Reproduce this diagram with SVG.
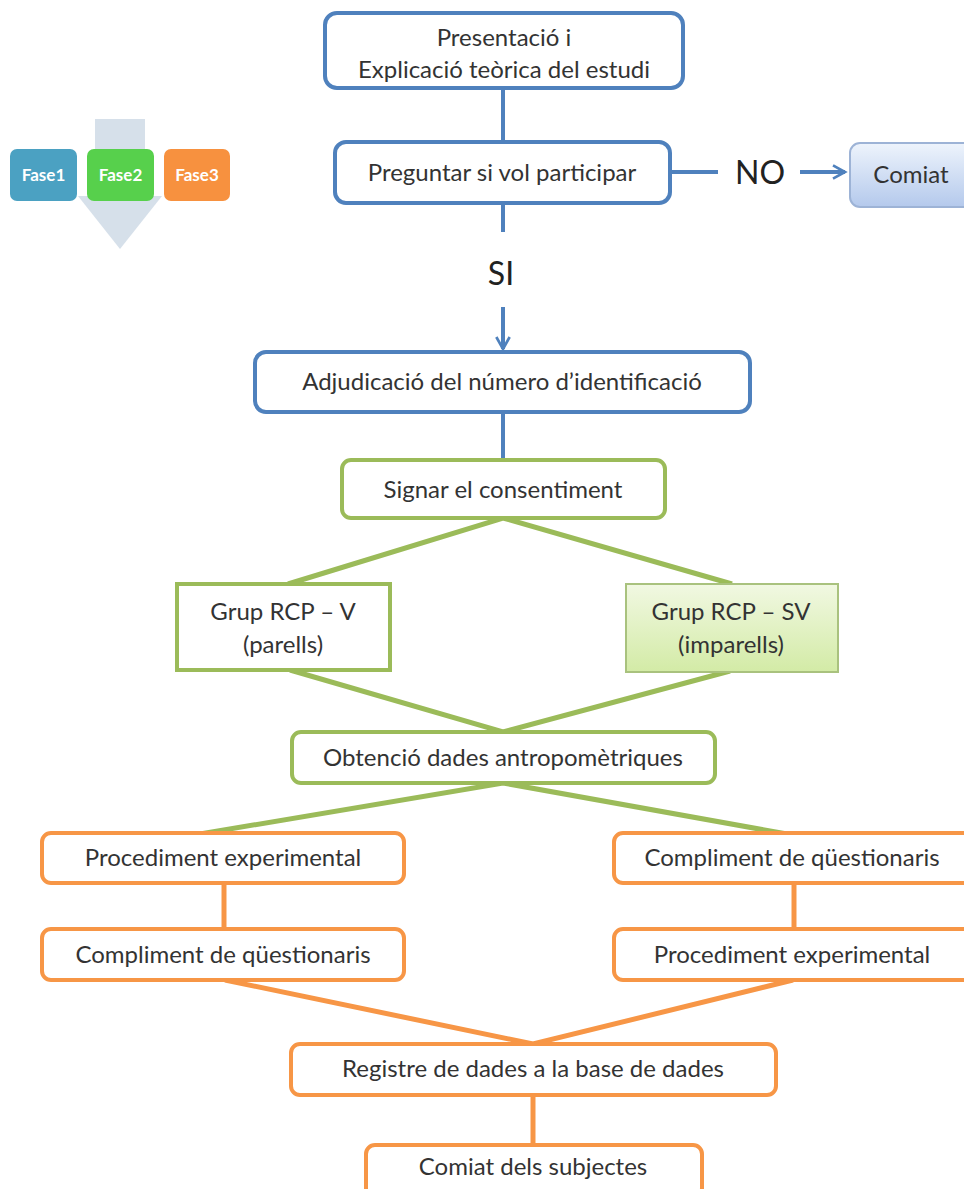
<svg xmlns="http://www.w3.org/2000/svg" width="964" height="1189" viewBox="0 0 964 1189">
<style>
  text { font-family: Lato, "Open Sans", "Liberation Sans", sans-serif; fill: #333333; text-anchor: middle; }
  .t { font-size: 24px; }
  .big { font-size: 32px; fill: #222222; }
  .leg { font-size: 17px; font-weight: bold; fill: #ffffff; }
  .blue { fill: #ffffff; stroke: #4f81bd; stroke-width: 4; }
  .green { fill: #ffffff; stroke: #9bbb59; stroke-width: 4; }
  .orange { fill: #ffffff; stroke: #f79646; stroke-width: 4; }
  .lb { stroke: #4f81bd; stroke-width: 4; fill: none; }
  .lg { stroke: #9bbb59; stroke-width: 5; fill: none; }
  .lo { stroke: #f79646; stroke-width: 5; fill: none; }
</style>
<defs>
  <linearGradient id="gBlue" x1="0" y1="0" x2="0" y2="1">
    <stop offset="0" stop-color="#eef4fc"/>
    <stop offset="1" stop-color="#b4c9ec"/>
  </linearGradient>
  <linearGradient id="gGreen" x1="0" y1="0" x2="0" y2="1">
    <stop offset="0" stop-color="#f1f8e2"/>
    <stop offset="1" stop-color="#d3eba6"/>
  </linearGradient>
  <marker id="chev" viewBox="0 0 12 12" refX="10" refY="6" markerWidth="4" markerHeight="4" orient="auto" markerUnits="strokeWidth">
    <path d="M1,1 L10,6 L1,11" fill="none" stroke="#4f81bd" stroke-width="2"/>
  </marker>
</defs>
<rect width="964" height="1189" fill="#ffffff"/>

<g id="legend">
  <rect x="95" y="119" width="50" height="35" fill="#d6e0ea"/>
  <polygon points="78,196 162,196 120,249" fill="#d6e0ea"/>
  <rect x="10" y="149" width="67" height="52" rx="7" fill="#4ba1c2"/>
  <text class="leg" x="43.5" y="181">Fase1</text>
  <rect x="87" y="149" width="67" height="52" rx="7" fill="#57d04c"/>
  <text class="leg" x="120.5" y="181">Fase2</text>
  <rect x="164" y="149" width="66" height="52" rx="7" fill="#f7913f"/>
  <text class="leg" x="197" y="181">Fase3</text>
</g>

<g id="connectors">
  <line class="lb" x1="503" y1="88" x2="503" y2="142"/>
  <line class="lb" x1="503" y1="203" x2="503" y2="232"/>
  <line class="lb" x1="670" y1="172" x2="718" y2="172"/>
  <line class="lb" x1="800" y1="172" x2="845" y2="172" marker-end="url(#chev)"/>
  <line class="lb" x1="503" y1="307" x2="503" y2="349" marker-end="url(#chev)"/>
  <line class="lb" x1="503" y1="412" x2="503" y2="460"/>
  <polyline class="lg" points="288,584 503,518 732,584"/>
  <polyline class="lg" points="290,670 503,732 730,671"/>
  <polyline class="lg" points="200,834 503,783 787,834"/>
  <line class="lo" x1="224" y1="883" x2="224" y2="930"/>
  <line class="lo" x1="794" y1="883" x2="794" y2="930"/>
  <polyline class="lo" points="225,980 533,1044 793,980"/>
  <line class="lo" x1="533" y1="1095" x2="533" y2="1145"/>
</g>

<g id="n-presentacio">
  <rect class="blue" x="325" y="13" width="358" height="75" rx="12"/>
  <text class="t" x="504" y="46">Presentació i</text>
  <text class="t" x="504" y="78">Explicació teòrica del estudi</text>
</g>
<g id="n-preguntar">
  <rect class="blue" x="335" y="142" width="335" height="61" rx="11"/>
  <text class="t" x="502" y="181">Preguntar si vol participar</text>
</g>
<g id="label-no">
  <text class="big" x="760" y="184">NO</text>
</g>
<g id="n-comiat">
  <rect x="850" y="143" width="124" height="64" rx="10" fill="url(#gBlue)" stroke="#9db3d6" stroke-width="2"/>
  <text class="t" x="911" y="183">Comiat</text>
</g>
<g id="label-si">
  <text class="big" x="501" y="285">SI</text>
</g>
<g id="n-adjudicacio">
  <rect class="blue" x="255" y="352" width="495" height="60" rx="11"/>
  <text class="t" x="502" y="390">Adjudicació del número d’identificació</text>
</g>
<g id="n-signar">
  <rect class="green" x="342" y="460" width="323" height="58" rx="9"/>
  <text class="t" x="503" y="498">Signar el consentiment</text>
</g>
<g id="n-grup-v">
  <rect class="green" x="177" y="584" width="213" height="86"/>
  <text class="t" x="283" y="620">Grup RCP – V</text>
  <text class="t" x="283" y="653">(parells)</text>
</g>
<g id="n-grup-sv">
  <rect x="626" y="584" width="212" height="88" fill="url(#gGreen)" stroke="#a9c27e" stroke-width="2"/>
  <text class="t" x="731" y="620">Grup RCP – SV</text>
  <text class="t" x="731" y="653">(imparells)</text>
</g>
<g id="n-obtencio">
  <rect class="green" x="292" y="732" width="423" height="51" rx="9"/>
  <text class="t" x="503" y="766">Obtenció dades antropomètriques</text>
</g>
<g id="n-proc-left">
  <rect class="orange" x="42" y="833" width="362" height="50" rx="9"/>
  <text class="t" x="223" y="866">Procediment experimental</text>
</g>
<g id="n-comp-right">
  <rect class="orange" x="614" y="833" width="362" height="50" rx="9"/>
  <text class="t" x="792" y="866">Compliment de qüestionaris</text>
</g>
<g id="n-comp-left">
  <rect class="orange" x="42" y="929" width="362" height="51" rx="9"/>
  <text class="t" x="223" y="963">Compliment de qüestionaris</text>
</g>
<g id="n-proc-right">
  <rect class="orange" x="614" y="929" width="362" height="51" rx="9"/>
  <text class="t" x="792" y="963">Procediment experimental</text>
</g>
<g id="n-registre">
  <rect class="orange" x="291" y="1044" width="485" height="51" rx="9"/>
  <text class="t" x="533" y="1077">Registre de dades a la base de dades</text>
</g>
<g id="n-comiat-subjectes">
  <rect class="orange" x="366" y="1145" width="336" height="52" rx="9"/>
  <text class="t" x="533" y="1175">Comiat dels subjectes</text>
</g>
</svg>
